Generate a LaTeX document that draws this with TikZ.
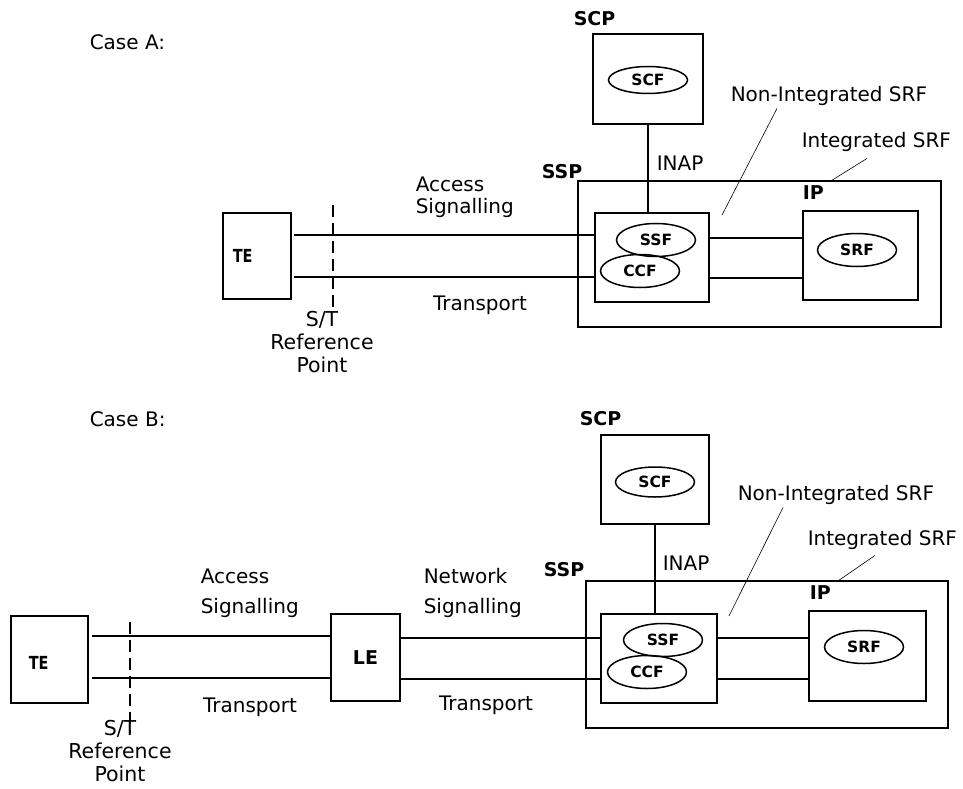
\documentclass[tikz,border=0pt]{standalone}
\usepackage{graphicx}
\usepackage{fontspec}
\setmainfont{DejaVu Sans}
\usetikzlibrary{shapes.geometric}
\newcommand{\narrowtxt}[1]{\scalebox{0.8}[1]{#1}}

\begin{document}
\begin{tikzpicture}[x=1pt, y=-1pt, line width=1.5pt,
    box/.style={draw, rectangle, inner sep=0pt},
    func/.style={draw, ellipse, minimum width=79pt, minimum height=33pt, inner sep=0pt,
        font=\fontsize{15.5}{17}\selectfont\bfseries},
    lbl/.style={inner sep=0pt, font=\fontsize{20}{22}\selectfont},
    tag/.style={inner sep=0pt, anchor=west, font=\fontsize{19}{21}\selectfont\bfseries},
    reflbl/.style={inner sep=0pt, align=center, font=\fontsize{20.5}{23}\selectfont},
    lead/.style={line width=0.6pt},
    refline/.style={line width=1.5pt, dash pattern=on 12pt off 6pt}]
    \useasboundingbox (0,0) rectangle (963,789);

    % --- Case A ---
    \node[lbl, anchor=west] (caseA) at (89,42) {Case A:};

    \node[box, minimum width=110pt, minimum height=90pt] (scpA) at (648,79) {};
    \node[tag] (scpAlbl) at (573,19) {SCP};
    \node[func, minimum height=27pt] (scfA) at (648,80) {SCF};

    \node[box, minimum width=363pt, minimum height=146pt] (sspA) at (759.5,254) {};
    \node[tag] (sspAlbl) at (541,172) {SSP};
    \node[box, minimum width=114pt, minimum height=89pt] (coreA) at (652,257.5) {};
    \node[func] (ccfA) at (640,271) {CCF};
    \node[func] (ssfA) at (656,240) {SSF};

    \node[box, minimum width=115pt, minimum height=89pt] (ipA) at (860.5,255.5) {};
    \node[tag] (ipAlbl) at (802,193) {IP};
    \node[func] (srfA) at (857,250) {SRF};

    \node[box, minimum width=68pt, minimum height=86pt] (teA) at (257,256) {};
    \node[inner sep=0pt, anchor=west, font=\fontsize{18}{20}\selectfont\bfseries] (teAlbl) at (232,256) {\narrowtxt{TE}};

    \draw (scpA.south) -- (scpA.south |- coreA.north);
    \node[lbl, anchor=west] (inapA) at (656,163) {INAP};

    \node[lbl, anchor=west] (nonintA) at (730,96) {Non-Integrated SRF};
    \coordinate (nonintAend) at (722,215);
    \draw[lead] ([xshift=47pt,yshift=-2pt]nonintA.south west) -- (nonintAend);
    \node[lbl, anchor=west] (intA) at (801,142) {Integrated SRF};
    \draw[lead] ([xshift=66pt,yshift=-6pt]intA.south west) -- (sspA.north -| 832,0);

    \coordinate (sigA) at (0,235);
    \coordinate (trpA) at (0,277);
    \coordinate (sigAr) at (0,238);
    \coordinate (trpAr) at (0,278);
    \draw[shorten <=2pt] (teA.east |- sigA) -- (coreA.west |- sigA);
    \draw[shorten <=2pt] (teA.east |- trpA) -- (coreA.west |- trpA);
    \draw (coreA.east |- sigAr) -- (ipA.west |- sigAr);
    \draw (coreA.east |- trpAr) -- (ipA.west |- trpAr);

    \draw[refline] (333,205) -- (333,312);
    \node[reflbl] (stA) at (322,342) {S/T\\Reference\\Point};

    \node[lbl, anchor=west, align=left] (accA) at (415,197) {Access\\Signalling};
    \node[lbl] (trA) at (480,305) {Transport};

    % --- Case B ---
    \node[lbl, anchor=west] (caseB) at (89,419) {Case B:};

    \node[box, minimum width=108pt, minimum height=89pt] (scpB) at (655,479.5) {};
    \node[tag] (scpBlbl) at (579,419) {SCP};
    \node[func, minimum height=30pt] (scfB) at (655,482) {SCF};

    \node[box, minimum width=362pt, minimum height=147pt] (sspB) at (767,654.5) {};
    \node[tag] (sspBlbl) at (543,570) {SSP};
    \node[box, minimum width=116pt, minimum height=89pt] (coreB) at (659,658.5) {};
    \node[func] (ccfB) at (647,672) {CCF};
    \node[func] (ssfB) at (663,640) {SSF};

    \node[box, minimum width=117pt, minimum height=90pt] (ipB) at (867.5,656) {};
    \node[tag] (ipBlbl) at (809,593) {IP};
    \node[func] (srfB) at (864,647) {SRF};

    \node[box, minimum width=77pt, minimum height=87pt] (teB) at (49.5,659.5) {};
    \node[inner sep=0pt, anchor=west, font=\fontsize{18}{20}\selectfont\bfseries] (teBlbl) at (28,663) {\narrowtxt{TE}};
    \node[box, minimum width=69pt, minimum height=87pt,
          font=\fontsize{19}{21}\selectfont\bfseries] (leB) at (365.5,657.5) {LE};

    \draw (scpB.south) -- (scpB.south |- coreB.north);
    \node[lbl, anchor=west] (inapB) at (662,563) {INAP};

    \node[lbl, anchor=west] (nonintB) at (737,495) {Non-Integrated SRF};
    \coordinate (nonintBend) at (729,616);
    \draw[lead] ([xshift=46pt,yshift=-2pt]nonintB.south west) -- (nonintBend);
    \node[lbl, anchor=west] (intB) at (807,540) {Integrated SRF};
    \draw[lead] ([xshift=68pt,yshift=-5pt]intB.south west) -- (sspB.north -| 839,0);

    \coordinate (sigB) at (0,636);
    \coordinate (trpB) at (0,678);
    \coordinate (sigBn) at (0,638);
    \coordinate (trpBn) at (0,679);
    \draw[shorten <=3pt] (teB.east |- sigB) -- (leB.west |- sigB);
    \draw[shorten <=3pt] (teB.east |- trpB) -- (leB.west |- trpB);
    \draw (leB.east |- sigBn) -- (coreB.west |- sigBn);
    \draw (leB.east |- trpBn) -- (coreB.west |- trpBn);
    \draw (coreB.east |- sigBn) -- (ipB.west |- sigBn);
    \draw (coreB.east |- trpBn) -- (ipB.west |- trpBn);

    \draw[refline] (130,622) -- (130,733);
    \node[reflbl] (stB) at (120,751) {S/T\\Reference\\Point};

    \node[lbl, anchor=west, align=left, font=\fontsize{20}{30}\selectfont] (accB) at (200,593) {Access\\Signalling};
    \node[lbl, anchor=west, align=left, font=\fontsize{20}{30}\selectfont] (netB) at (423,593) {Network\\Signalling};
    \node[lbl] (trB1) at (250,707) {Transport};
    \node[lbl] (trB2) at (486,705) {Transport};
\end{tikzpicture}
\end{document}
